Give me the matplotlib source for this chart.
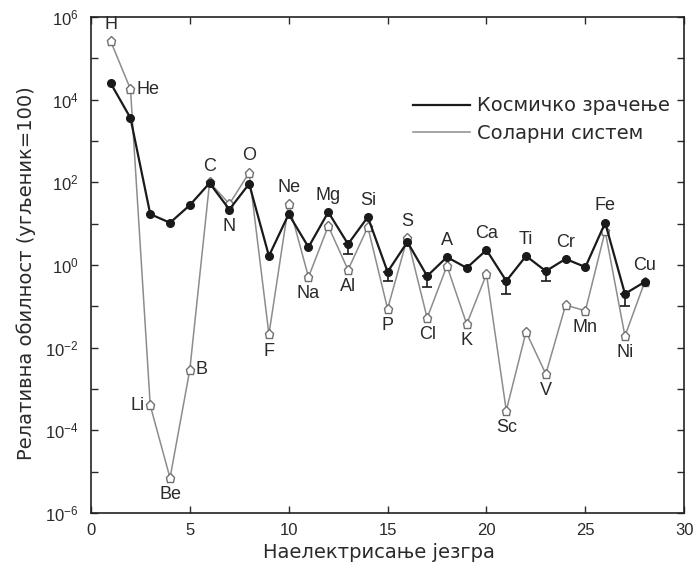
import numpy as np
import matplotlib
matplotlib.use("Agg")
import matplotlib.pyplot as plt
from matplotlib.ticker import FixedLocator, FuncFormatter

plt.rcParams['font.family'] = ['Liberation Sans', 'DejaVu Sans']
plt.rcParams['mathtext.fontset'] = 'custom'
plt.rcParams['mathtext.rm'] = 'Liberation Sans'
plt.rcParams['mathtext.it'] = 'Liberation Sans'

# наелектрисање језгра и симболи
Z = list(range(1, 29))
elements = ['H', 'He', 'Li', 'Be', 'B', 'C', 'N', 'O', 'F', 'Ne', 'Na', 'Mg', 'Al', 'Si',
            'P', 'S', 'Cl', 'A', 'K', 'Ca', 'Sc', 'Ti', 'V', 'Cr', 'Mn', 'Fe', 'Ni', 'Cu']

# космичко зрачење (угљеник = 100)
cosmic = [2.5e4, 3.6e3, 17, 10.5, 28, 96, 22, 92, 1.65, 17, 2.7, 19, 3.2, 14.5,
          0.68, 3.6, 0.54, 1.55, 0.85, 2.3, 0.41, 1.65, 0.71, 1.4, 0.89, 10.5, 0.2, 0.39]
# доња граница грешке (само где се види)
cosmic_low = [None] * 28
cosmic_low[12] = 1.85   # Al
cosmic_low[14] = 0.41   # P
cosmic_low[16] = 0.30   # Cl
cosmic_low[20] = 0.20   # Sc
cosmic_low[22] = 0.41   # V
cosmic_low[26] = 0.10   # Ni

# соларни систем
solar = [2.6e5, 1.8e4, 4e-4, 7e-6, 2.9e-3, 100, 30, 170, 0.021, 30, 0.51, 8.7, 0.76, 8.3,
         0.087, 4.5, 0.052, 0.95, 0.037, 0.6, 3e-4, 0.024, 0.0023, 0.107, 0.078, 6.6, 0.019, 0.39]

# где стоји ознака: уз који низ и на коју страну
label_pos = {
    'H': ('s', 'up'), 'He': ('s', 'right'), 'Li': ('s', 'left'), 'Be': ('s', 'down'),
    'B': ('s', 'right'), 'C': ('c', 'up'), 'N': ('c', 'down'), 'O': ('s', 'up'),
    'F': ('s', 'down'), 'Ne': ('s', 'up'), 'Na': ('s', 'down'), 'Mg': ('c', 'up'),
    'Al': ('s', 'down'), 'Si': ('c', 'up'), 'P': ('s', 'down'), 'S': ('s', 'up'),
    'Cl': ('s', 'down'), 'A': ('c', 'up'), 'K': ('s', 'down'), 'Ca': ('c', 'up'),
    'Sc': ('s', 'down'), 'Ti': ('c', 'up'), 'V': ('s', 'down'), 'Cr': ('c', 'up'),
    'Mn': ('s', 'down'), 'Fe': ('c', 'up'), 'Ni': ('s', 'down'), 'Cu': ('c', 'up'),
}

txt = '#2a2a2a'

fig = plt.figure(figsize=(6.94, 5.68), dpi=100)
ax = fig.add_axes([0.131, 0.097, 0.855, 0.873])

ax.plot(Z, solar, color='#8c8c8c', lw=1.1, marker='p', ms=6.5, mfc='white',
        mec='#707070', mew=1.0, zorder=2)
ax.plot(Z, cosmic, color='#1a1a1a', lw=1.6, marker='o', ms=5.5, mfc='#1a1a1a',
        mec='#1a1a1a', zorder=3)

# грешке космичког зрачења
ez, ev, el = [], [], []
for z, v, lo in zip(Z, cosmic, cosmic_low):
    if lo is not None:
        ez.append(z)
        ev.append(v)
        el.append(v - lo)
ax.errorbar(ez, ev, yerr=[el, np.zeros(len(el))], fmt='none', ecolor='#1a1a1a',
            elinewidth=1.2, capsize=3.5, capthick=1.2, zorder=3)

# легенда само са линијама
ax.plot([], [], color='#1a1a1a', lw=1.6, label='Космичко зрачење')
ax.plot([], [], color='#8c8c8c', lw=1.1, label='Соларни систем')
leg = ax.legend(loc='upper left', bbox_to_anchor=(0.543, 0.84), frameon=False,
                borderpad=0, borderaxespad=0, handlelength=2.9, handletextpad=0.4,
                labelspacing=0.45, prop={'family': 'DejaVu Sans', 'size': 14})
for t in leg.get_texts():
    t.set_color(txt)

offsets = {'up': ((0, 6), 'center', 'bottom'), 'down': ((0, -6), 'center', 'top'),
           'left': ((-4, 0), 'right', 'center'), 'right': ((4, 0), 'left', 'center')}
for z, name in zip(Z, elements):
    which, side = label_pos[name]
    y = solar[z - 1] if which == 's' else cosmic[z - 1]
    off, ha, va = offsets[side]
    ax.annotate(name, (z, y), xytext=off, textcoords='offset points',
                ha=ha, va=va, fontsize=13, color=txt)

ax.set_yscale('log')
ax.set_xlim(0, 30)
ax.set_ylim(1e-6, 1e6)
ax.set_xticks([0, 5, 10, 15, 20, 25, 30])
ax.yaxis.set_major_locator(FixedLocator([10.0 ** k for k in range(-6, 7)]))
ax.yaxis.set_minor_locator(FixedLocator([]))
ax.yaxis.set_major_formatter(FuncFormatter(
    lambda v, p: r'$10^{%d}$' % round(np.log10(v)) if round(np.log10(v)) % 2 == 0 else ''))
ax.tick_params(direction='in', top=True, right=True, length=5, width=1,
               labelsize=12, colors=txt)
ax.tick_params(axis='x', pad=7)
ax.tick_params(axis='y', pad=9)
for s in ax.spines.values():
    s.set_linewidth(1.2)
    s.set_color('#222222')

ax.set_xlabel('Наелектрисање језгра', family='DejaVu Sans', fontsize=14, color=txt)
ax.set_ylabel('Релативна обилност (угљеник=100)', family='DejaVu Sans', fontsize=14,
              color=txt)
ax.xaxis.set_label_coords(0.486, -0.06)
ax.yaxis.set_label_coords(-0.093, 0.484)

fig.savefig('out.png', dpi=100)
